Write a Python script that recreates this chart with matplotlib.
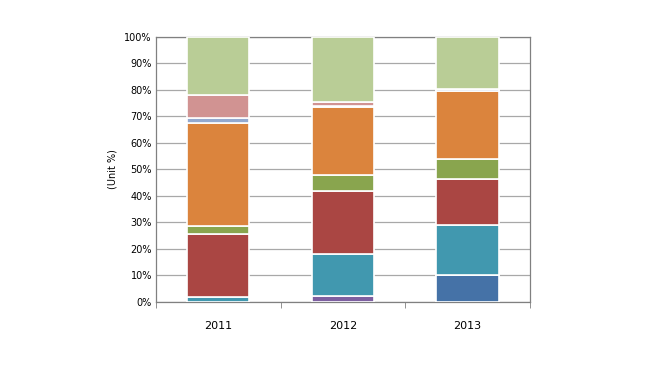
import numpy as np
import matplotlib.pyplot as plt

# Datos (% por año, de abajo hacia arriba)
years = ['2011', '2012', '2013']
blue = [0.0, 0.0, 10.0]
purple = [0.0, 2.4, 0.0]
teal = [1.7, 15.6, 18.9]
red = [23.8, 23.9, 17.5]
green = [3.1, 5.9, 7.4]
orange = [39.1, 25.6, 25.8]
light_blue = [1.7, 0.6, 0.7]
pink = [8.7, 1.6, 0.0]
light_green = [21.9, 24.4, 19.7]

series = [blue, purple, teal, red, green, orange, light_blue, pink, light_green]
colors = ['#4572A7', '#7D5FA0', '#4198AF', '#AA4643', '#89A54E',
          '#DB843D', '#93A9CF', '#D19392', '#B9CD96']

fig = plt.figure(figsize=(6.5, 3.66), dpi=100)
ax = fig.add_axes([0.24, 0.175, 0.575, 0.724])

x = np.arange(len(years))
bottom = np.zeros(len(years))
for vals, c in zip(series, colors):
    ax.bar(x, vals, width=0.5, bottom=bottom, color=c,
           edgecolor='white', linewidth=1.2, zorder=3)
    bottom += np.array(vals)

ax.set_xlim(-0.5, 2.5)
ax.set_ylim(0, 100)
ax.set_yticks(np.arange(0, 101, 10))
ax.set_yticklabels([f'{v}%' for v in range(0, 101, 10)], fontsize=7)
ax.yaxis.grid(True, color='#A8A8A8', linewidth=0.9, zorder=0)
ax.tick_params(axis='y', length=0, pad=3)

ax.set_xticks(x)
ax.set_xticklabels(years, fontsize=8)
ax.tick_params(axis='x', which='major', length=0, pad=14)
ax.set_xticks([-0.5, 0.5, 1.5, 2.5], minor=True)
ax.tick_params(axis='x', which='minor', length=4, color='#808080', direction='out')

for s in ax.spines.values():
    s.set_color('#808080')
    s.set_linewidth(0.9)

ax.set_ylabel('(Unit %)', fontsize=7, labelpad=5)

fig.savefig('out.png', dpi=100)
